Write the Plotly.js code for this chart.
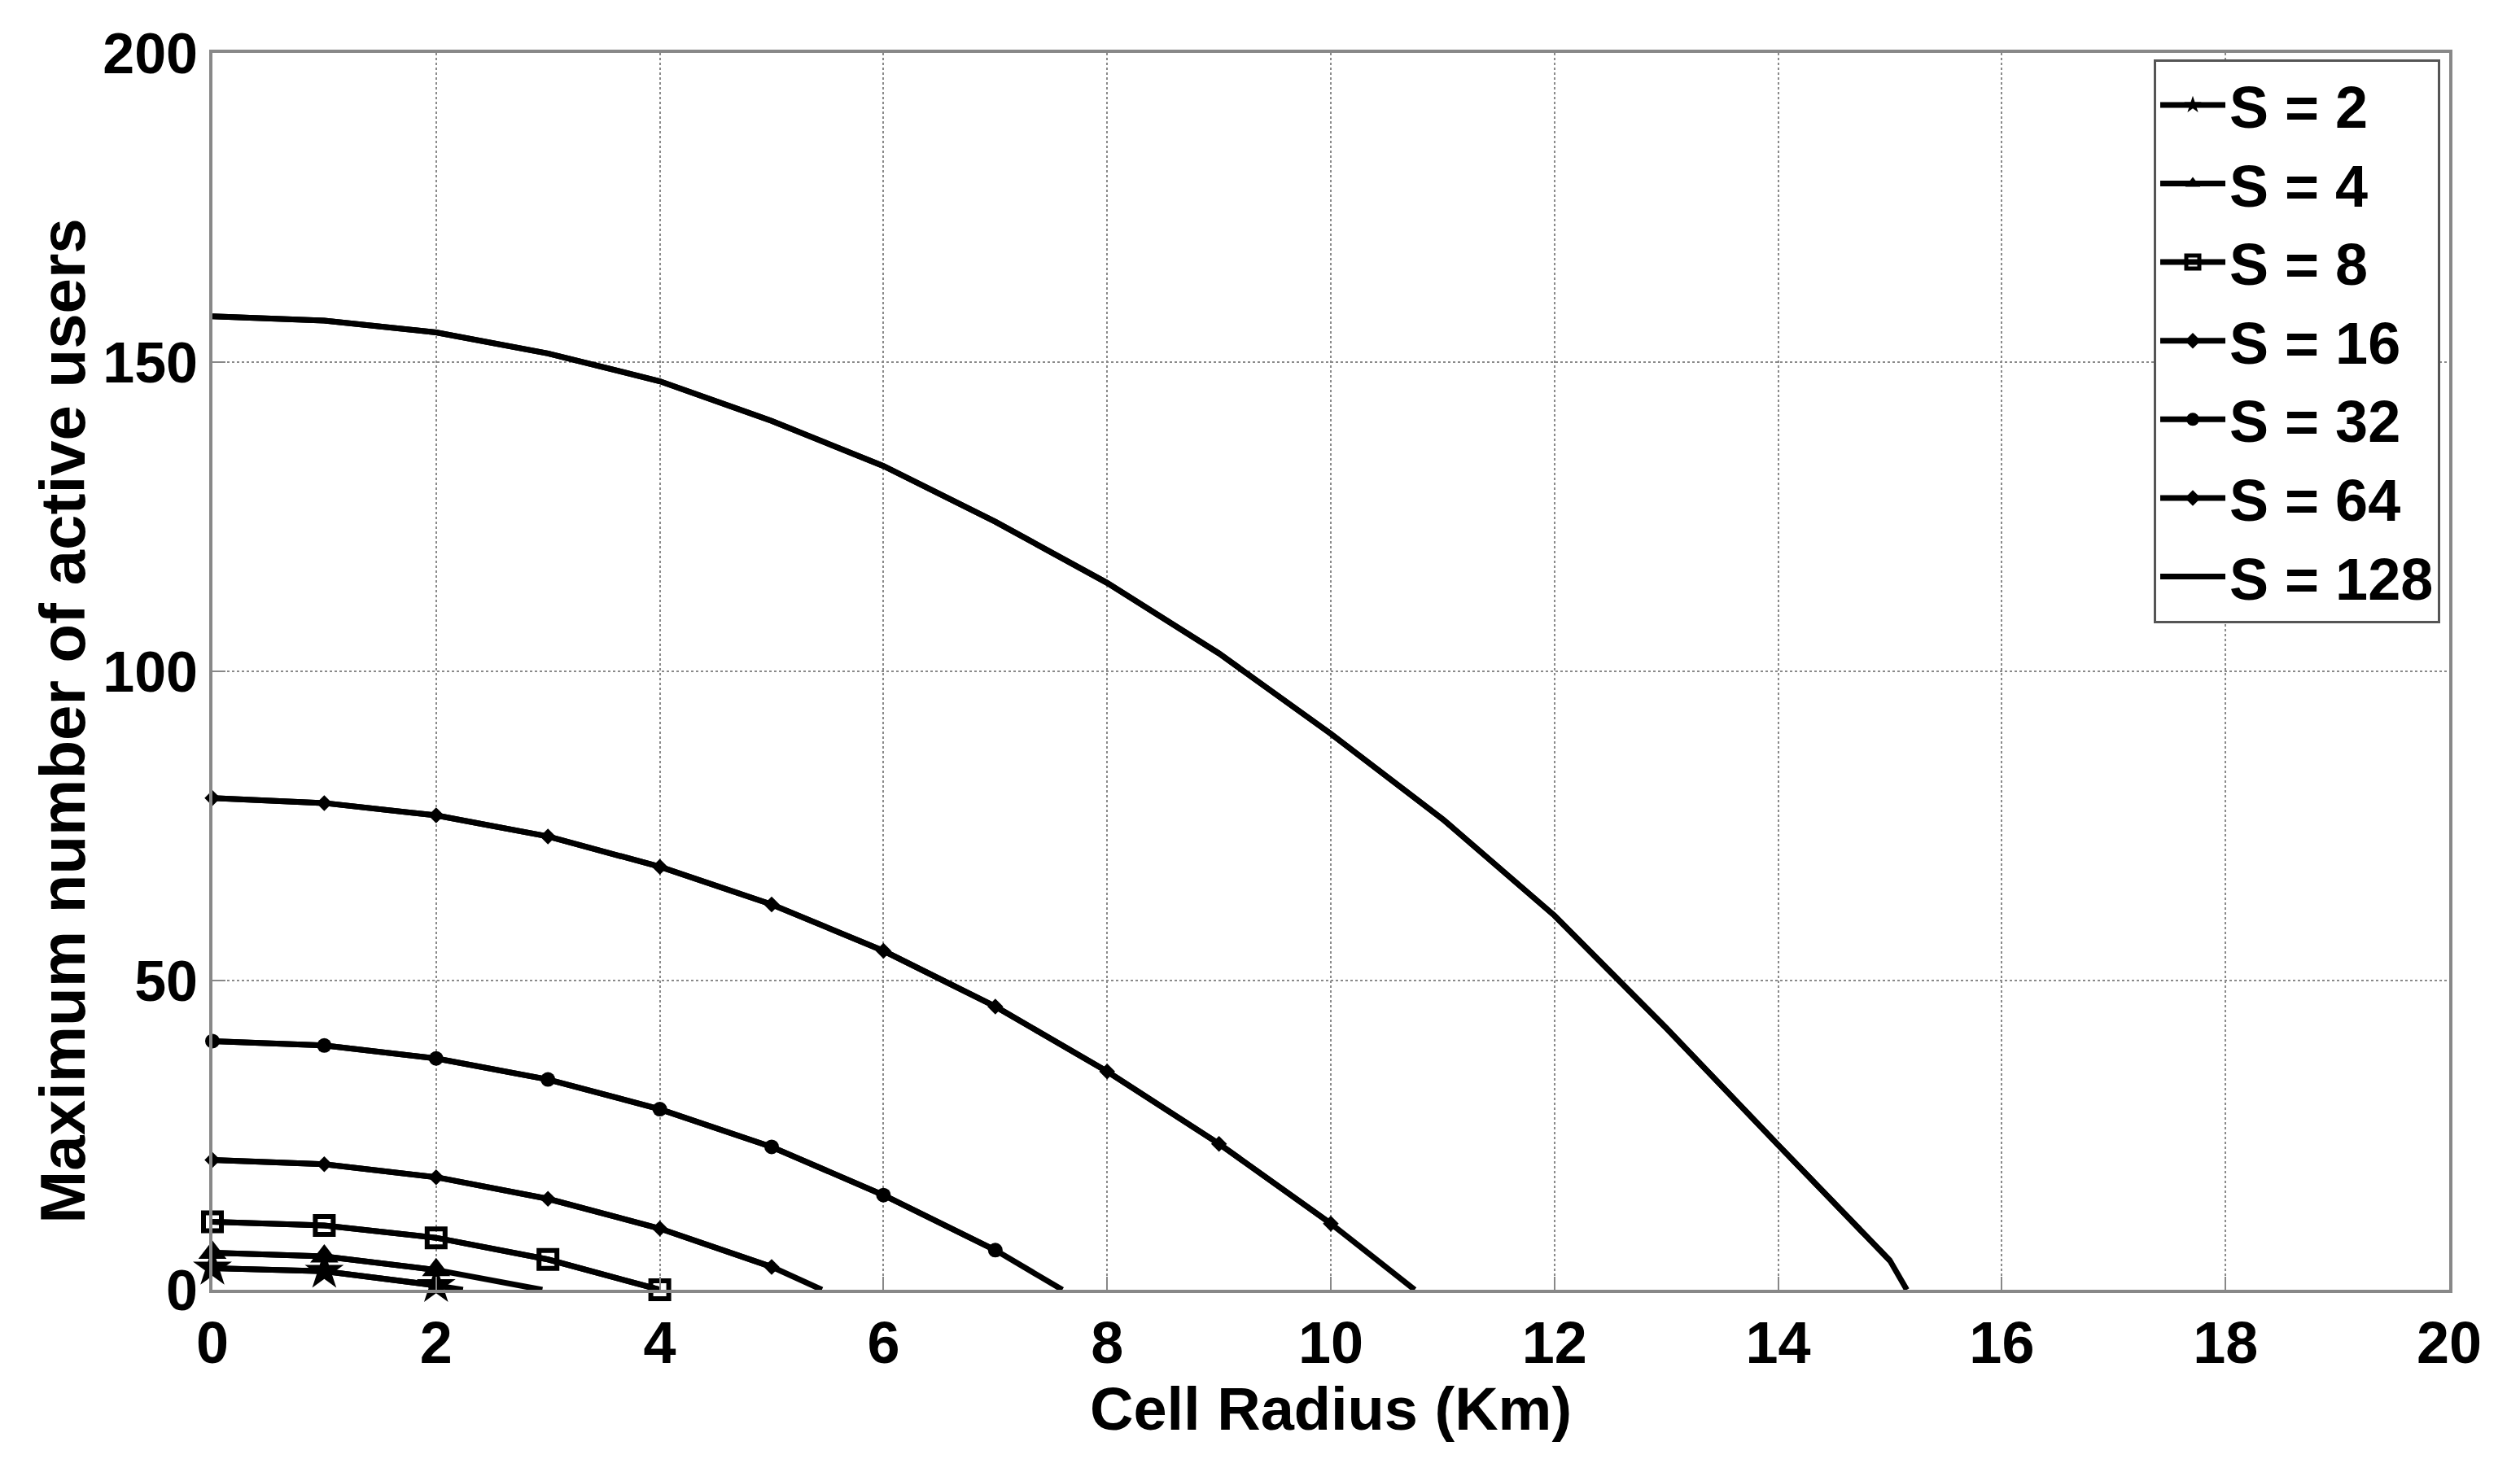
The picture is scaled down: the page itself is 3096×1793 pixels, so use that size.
<!DOCTYPE html>
<html>
<head>
<meta charset="utf-8">
<script src="https://cdn.plot.ly/plotly-3.0.1.min.js"></script>
<style>html,body{margin:0;padding:0;background:#fff;}#chart{width:3096px;height:1793px;}</style>
</head>
<body>
<div id="chart"></div>
<script>
// Cell radius (Km) and maximum number of active users for each spreading factor S
const seriesNames = ["S = 2", "S = 4", "S = 8", "S = 16", "S = 32", "S = 64", "S = 128"];

const radius_S2   = [0, 1, 2, 2.24];
const users_S2    = [3.5, 3.0, 0.7, 0];

const radius_S4   = [0, 1, 2, 2.95];
const users_S4    = [6.0, 5.4, 3.2, 0];

const radius_S8   = [0, 1, 2, 3, 4];
const users_S8    = [11.0, 10.4, 8.4, 4.9, 0];

const radius_S16  = [0, 1, 2, 3, 4, 5, 5.45];
const users_S16   = [21.0, 20.3, 18.2, 14.7, 9.9, 3.7, 0];

const radius_S32  = [0, 1, 2, 3, 4, 5, 6, 7, 7.6];
const users_S32   = [40.2, 39.5, 37.4, 34.0, 29.2, 23.1, 15.3, 6.4, 0];

const radius_S64  = [0, 1, 2, 3, 4, 5, 6, 7, 8, 9, 10, 10.75];
const users_S64   = [79.5, 78.7, 76.7, 73.3, 68.4, 62.3, 54.8, 45.8, 35.3, 23.6, 10.7, 0];

const radius_S128 = [0, 1, 2, 3, 4, 5, 6, 7, 8, 9, 10, 11, 12, 13, 14, 15, 15.15];
const users_S128  = [157.4, 156.7, 154.8, 151.4, 146.9, 140.5, 133.2, 124.2, 114.3, 102.9, 89.9, 76.1, 60.5, 42.3, 23.4, 4.7, 0];

const xTicks = [0, 2, 4, 6, 8, 10, 12, 14, 16, 18, 20];
const yTicks = [0, 50, 100, 150, 200];

const xs = [radius_S2, radius_S4, radius_S8, radius_S16, radius_S32, radius_S64, radius_S128];
const ys = [users_S2, users_S4, users_S8, users_S16, users_S32, users_S64, users_S128];

const symbols = ["star", "triangle-up", "square-open", "diamond", "circle", "diamond", "circle"];
const msizes  = [36, 30, 22, 15, 18, 15, 0];
const mline   = [0, 0, 6, 0, 0, 0, 0];

const traces = [];
seriesNames.forEach((name, i) => {
  const n = xs[i].length;
  const endIsFraction = !Number.isInteger(xs[i][n - 1]);
  // line through all points
  traces.push({
    type: "scatter",
    mode: "lines",
    name: name,
    legendgroup: name,
    showlegend: false,
    x: xs[i],
    y: ys[i],
    line: {color: "#000", width: 7},
    cliponaxis: false,
    hoverinfo: "skip"
  });
  // markers only at the sampled radii (not the zero-crossing end point)
  traces.push({
    type: "scatter",
    mode: i === 6 ? "lines" : "lines+markers",
    name: name,
    legendgroup: name,
    showlegend: true,
    x: endIsFraction ? xs[i].slice(0, n - 1) : xs[i],
    y: endIsFraction ? ys[i].slice(0, n - 1) : ys[i],
    line: {color: "#000", width: 7},
    marker: {symbol: symbols[i], size: msizes[i], color: "#000", line: {color: "#000", width: mline[i]}},
    cliponaxis: false
  });
});

const font = "Liberation Sans, Arial, sans-serif";

const layout = {
  width: 3096,
  height: 1793,
  paper_bgcolor: "#fff",
  plot_bgcolor: "#fff",
  margin: {l: 261, r: 87, t: 65, b: 208},
  showlegend: true,
  legend: {
    x: 0.996, y: 0.995, xanchor: "right", yanchor: "top",
    bgcolor: "#fff", bordercolor: "#555", borderwidth: 3,
    font: {family: font, size: 72, color: "#000", weight: "bold"},
    itemwidth: 80,
    tracegroupgap: 0
  },
  xaxis: {
    range: [0, 20],
    tickvals: xTicks,
    ticktext: xTicks.map(String),
    showgrid: true, gridcolor: "#8a8a8a", gridwidth: 2, griddash: "dot",
    zeroline: false,
    showline: true, linecolor: "#888", linewidth: 4, mirror: true,
    ticks: "inside", ticklen: 16, tickcolor: "#888", tickwidth: 2,
    tickfont: {family: font, size: 72, color: "#000", weight: "bold"},
    title: {text: "Cell Radius (Km)", font: {family: font, size: 74, color: "#000", weight: "bold"}, standoff: 10}
  },
  yaxis: {
    range: [0, 200],
    tickvals: yTicks,
    ticktext: yTicks.map(String),
    showgrid: true, gridcolor: "#8a8a8a", gridwidth: 2, griddash: "dot",
    zeroline: false,
    showline: true, linecolor: "#888", linewidth: 4, mirror: true,
    ticks: "inside", ticklen: 16, tickcolor: "#888", tickwidth: 2,
    tickfont: {family: font, size: 70, color: "#000", weight: "bold"},
    title: {text: ""}
  },
  annotations: [{
    text: "Maximum number of active users",
    xref: "paper", yref: "paper",
    x: -0.067, y: 0.46, xanchor: "center", yanchor: "middle",
    textangle: -90, showarrow: false,
    font: {family: font, size: 78, color: "#000", weight: "bold"}
  }]
};

Plotly.newPlot("chart", traces, layout, {staticPlot: true, displayModeBar: false});
</script>
</body>
</html>
